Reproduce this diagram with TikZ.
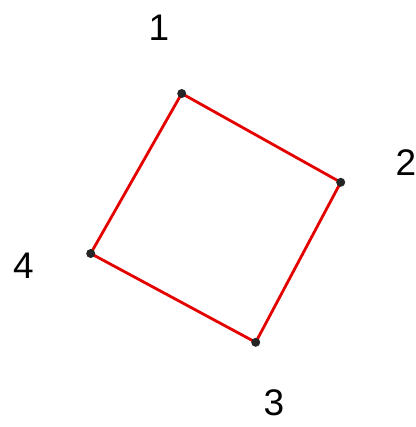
\documentclass[tikz,border=0pt]{standalone}
\usepackage{fontspec}
\setmainfont{Liberation Sans}
\begin{document}
\begin{tikzpicture}[x=1pt,y=-1pt,
  vtx/.style={circle,fill=black!85,inner sep=0pt,minimum size=9pt},
  lab/.style={inner sep=0pt,font=\fontsize{37}{37}\selectfont},
  edge/.style={draw=red!90!black,line width=2.8pt}]
\useasboundingbox (0,0) rectangle (415,427);
\coordinate (p1) at (181.7,93.5);
\coordinate (p2) at (340.7,182.3);
\coordinate (p3) at (255.7,342.3);
\coordinate (p4) at (90.7,253.5);
\draw[edge] (p1) -- (p2) -- (p3) -- (p4) -- cycle;
\node[vtx] (v1) at (p1) {};
\node[vtx] (v2) at (p2) {};
\node[vtx] (v3) at (p3) {};
\node[vtx] (v4) at (p4) {};
\node[lab] (l1) at (159,27.5) {1};
\node[lab] (l2) at (406,162.5) {2};
\node[lab] (l3) at (274,402.5) {3};
\node[lab] (l4) at (23.5,265.5) {4};
\end{tikzpicture}
\end{document}
